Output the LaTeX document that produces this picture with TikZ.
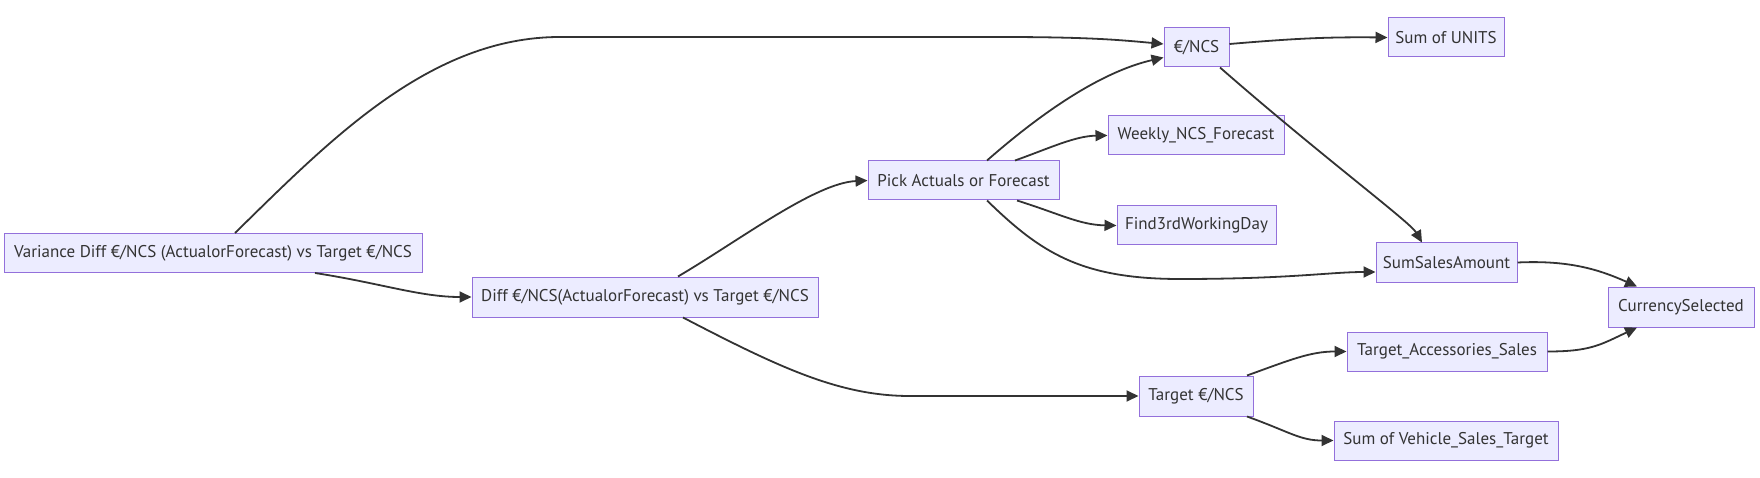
\documentclass[tikz,border=0pt]{standalone}
\usepackage{fontspec}
\setmainfont{PT Sans}
\usetikzlibrary{arrows.meta}
\definecolor{nfill}{HTML}{ECECFF}
\definecolor{nborder}{HTML}{9370DB}
\definecolor{ntext}{HTML}{333333}
\definecolor{eline}{HTML}{333333}
\tikzset{
  box/.style={draw=nborder, fill=nfill, line width=1pt, text=ntext, inner sep=0pt,
    font=\fontsize{17}{20}\selectfont, anchor=center},
  edge/.style={draw=eline, line width=1.8pt, -{Triangle[length=12pt,width=11pt]}},
}
\begin{document}
\begin{tikzpicture}[x=1pt,y=-1pt]
\useasboundingbox (0,0) rectangle (1760,478);
% nodes (centre, width, height from reference)
\node[box, minimum width=418pt, minimum height=39pt] (var) at (213,253) {Variance Diff €/NCS (ActualorForecast) vs Target €/NCS};
\node[box, minimum width=346pt, minimum height=40pt] (diff) at (645,297) {Diff €/NCS(ActualorForecast) vs Target €/NCS};
\node[box, minimum width=191pt, minimum height=39pt] (pick) at (963.5,180.5) {Pick Actuals or Forecast};
\node[box, minimum width=65pt, minimum height=39pt] (eur) at (1196.5,47.5) {€/NCS};
\node[box, minimum width=116pt, minimum height=39pt] (units) at (1446,37.5) {Sum of UNITS};
\node[box, minimum width=176pt, minimum height=39pt] (weekly) at (1196,135.5) {Weekly\_NCS\_Forecast};
\node[box, minimum width=159pt, minimum height=39pt] (find) at (1196.5,225.5) {Find3rdWorkingDay};
\node[box, minimum width=141pt, minimum height=39pt] (sales) at (1446.5,262.5) {SumSalesAmount};
\node[box, minimum width=146pt, minimum height=40pt] (cur) at (1681,307) {CurrencySelected};
\node[box, minimum width=114pt, minimum height=40pt] (tgt) at (1196,396) {Target €/NCS};
\node[box, minimum width=200pt, minimum height=39pt] (acc) at (1447,351.5) {Target\_Accessories\_Sales};
\node[box, minimum width=224pt, minimum height=39pt] (veh) at (1446,440.5) {Sum of Vehicle\_Sales\_Target};
% edges
\path[edge] ([xshift=22pt]var.north) .. controls (330,140) and (430,37) .. (560,37) -- (1000,37) .. controls (1090,37) and (1120,40) .. ([yshift=3.5pt]eur.west);
\path[edge] ([xshift=102pt]var.south) .. controls (380,283) and (420,297) .. (diff.west);
\path[edge] ([xshift=33pt]diff.north) .. controls (740,240) and (815,183) .. (pick.west);
\path[edge] ([xshift=38pt]diff.south) .. controls (780,368) and (840,396) .. (910,396) -- (tgt.west);
\path[edge] ([xshift=23.5pt]pick.north) .. controls (1040,114) and (1100,72) .. ([yshift=-10pt]eur.west);
\path[edge] ([xshift=51.5pt]pick.north) .. controls (1050,148) and (1075,136) .. (weekly.west);
\path[edge] ([xshift=53.5pt]pick.south) .. controls (1060,214) and (1080,225) .. (find.west);
\path[edge] ([xshift=23.5pt]pick.south) .. controls (1040,252) and (1080,279) .. (1180,279) .. controls (1290,279) and (1330,272) .. ([yshift=-9.5pt]sales.west);
\path[edge] ([yshift=3.5pt]eur.east) .. controls (1300,38) and (1330,37) .. (units.west);
\path[edge] ([xshift=23.5pt]eur.south) .. controls (1320,155) and (1410,222) .. ([xshift=-24.5pt]sales.north);
\path[edge] (sales.east) .. controls (1570,260) and (1600,270) .. ([xshift=-44pt]cur.north);
\path[edge] ([xshift=51pt]tgt.north) .. controls (1290,360) and (1310,351.5) .. (acc.west);
\path[edge] ([xshift=51pt]tgt.south) .. controls (1290,432) and (1300,440.5) .. (veh.west);
\path[edge] (acc.east) .. controls (1590,351.5) and (1600,345) .. ([xshift=-44pt]cur.south);
\end{tikzpicture}
\end{document}
